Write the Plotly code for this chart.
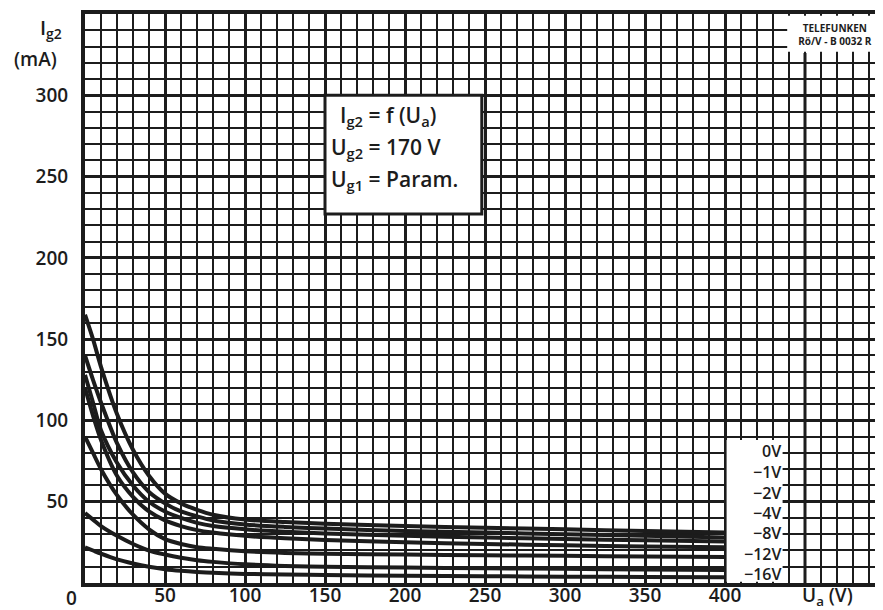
import plotly.graph_objects as go

# ---- data ----
ua = [0, 5, 10, 20, 30, 40, 50, 60, 70, 80, 100, 125, 150, 200, 250, 300, 350, 400]
ig2_0v   = [165, 150, 133, 104, 82, 66, 55, 49, 45, 42, 39, 37.5, 36.5, 35, 34, 33, 32, 31]
ig2_m1v  = [140, 125, 111, 86, 68, 56, 49, 44, 41, 38.5, 36, 34.5, 33.5, 32, 31, 30, 29, 28]
ig2_m2v  = [128, 111, 94, 74, 60, 50, 44, 40, 37, 35, 33, 31.5, 30.5, 29, 28, 27, 26.3, 25.5]
ig2_m4v  = [120, 103, 88, 66, 53, 44, 38.5, 35, 32.5, 31, 29, 27.5, 26.5, 25, 24, 23.2, 22.5, 22]
ig2_m8v  = [90, 80, 70, 54, 42, 33, 27, 24, 22, 21, 19.5, 18.5, 18, 17.5, 17, 16.7, 16.3, 16]
ig2_m12v = [43, 39, 35, 29, 24, 20, 17.5, 15.5, 14, 13, 11.5, 10.5, 10, 9.5, 9, 8.7, 8.3, 8]
ig2_m16v = [22, 20, 18, 14.5, 12, 10, 8.5, 7.5, 6.8, 6.3, 5.6, 5.2, 4.9, 4.5, 4.2, 3.9, 3.7, 3.5]

series = [ig2_0v, ig2_m1v, ig2_m2v, ig2_m4v, ig2_m8v, ig2_m12v, ig2_m16v]
param_labels = ["0V", "\u22121V", "\u22122V", "\u22124V", "\u22128V", "\u221212V", "\u221216V"]
label_y = [81, 68, 55.5, 43, 30.5, 18, 5.5]

x_ticks = [50, 100, 150, 200, 250, 300, 350, 400]
x_extra_major = [450]
y_ticks = [50, 100, 150, 200, 250, 300]

INK = "#1c1c1c"
FONT = "Open Sans"

fig = go.Figure()
for s in series:
    fig.add_trace(go.Scatter(x=ua, y=s, mode="lines",
                             line=dict(color=INK, width=4, shape="spline", smoothing=0.8),
                             showlegend=False, hoverinfo="skip"))

grid_common = dict(showgrid=True, gridcolor=INK, gridwidth=3, zeroline=False,
                   showline=True, linecolor=INK, linewidth=4, mirror=True,
                   ticks="", tickfont=dict(family=FONT, size=19, color=INK, weight=600),
                   minor=dict(dtick=10, tick0=0, showgrid=True, gridcolor=INK, gridwidth=2))

fig.update_xaxes(range=[0, 500], tickvals=x_ticks, ticklabelstandoff=-8, **grid_common)
fig.update_yaxes(range=[0, 350], tickvals=y_ticks, ticklabelstandoff=9, **grid_common)

shapes = []
for xv in x_extra_major:
    shapes.append(dict(type="line", xref="x", yref="y", x0=xv, x1=xv, y0=0, y1=326,
                       line=dict(color=INK, width=3), layer="below"))
shapes += [
    # white box behind the parameter labels
    dict(type="rect", xref="x", yref="y", x0=401, x1=436, y0=0.8, y1=88,
         fillcolor="white", line=dict(width=0), layer="above"),
    # formula box
    dict(type="rect", xref="x", yref="y", x0=150, x1=248, y0=227, y1=300,
         fillcolor="white", line=dict(color=INK, width=3), layer="above"),
    # Telefunken box
    dict(type="rect", xref="x", yref="y", x0=439, x1=499, y0=327, y1=349,
         fillcolor="white", line=dict(width=0), layer="above"),
]

ann = []
for t, yv in zip(param_labels, label_y):
    ann.append(dict(x=436, y=yv, xref="x", yref="y", text=t, showarrow=False,
                    xanchor="right", yanchor="middle",
                    font=dict(family=FONT, size=16, color=INK, weight=600)))

# formula lines
formula = ["I<sub>g2</sub> = f (U<sub>a</sub>)", "U<sub>g2</sub> = 170 V", "U<sub>g1</sub> = Param."]
formula_y = [287, 267.5, 248]
formula_x = [158, 152.5, 152.5]
for t, xv, yv in zip(formula, formula_x, formula_y):
    ann.append(dict(x=xv, y=yv, xref="x", yref="y", text=t, showarrow=False,
                    xanchor="left", yanchor="middle",
                    font=dict(family=FONT, size=21, color=INK, weight=600)))

# Telefunken stamp (annotation with its own white background)
ann.append(dict(x=469, y=338, xref="x", yref="y",
                text="TELEFUNKEN<br>Rö/V - B 0032 R",
                showarrow=False, xanchor="center", yanchor="middle",
                bgcolor="white", width=94, height=34, borderpad=0,
                font=dict(family=FONT, size=10, color=INK, weight=700)))

# axis titles and origin label
ann.append(dict(x=0, y=0, xref="x", yref="y", text="0", showarrow=False,
                xanchor="center", yanchor="middle", xshift=-14, yshift=-15,
                font=dict(family=FONT, size=19, color=INK, weight=600)))
ann.append(dict(x=464, y=0, xref="x", yref="y", text="U<sub>a</sub> (V)", showarrow=False,
                xanchor="center", yanchor="middle", yshift=-13,
                font=dict(family=FONT, size=19, color=INK, weight=600)))
ann.append(dict(x=0, y=350, xref="x", yref="y", text="I<sub>g2</sub>", showarrow=False,
                xanchor="left", yanchor="top", xshift=-47, yshift=2,
                font=dict(family=FONT, size=20, color=INK, weight=600)))
ann.append(dict(x=0, y=350, xref="x", yref="y", text="(mA)", showarrow=False,
                xanchor="right", yanchor="top", xshift=-26, yshift=-30,
                font=dict(family=FONT, size=19, color=INK, weight=600)))

fig.update_layout(
    width=883, height=610,
    margin=dict(l=77, r=2, t=5, b=35),
    paper_bgcolor="white", plot_bgcolor="white",
    shapes=shapes, annotations=ann,
    showlegend=False,
)

fig.write_html("out.html")
